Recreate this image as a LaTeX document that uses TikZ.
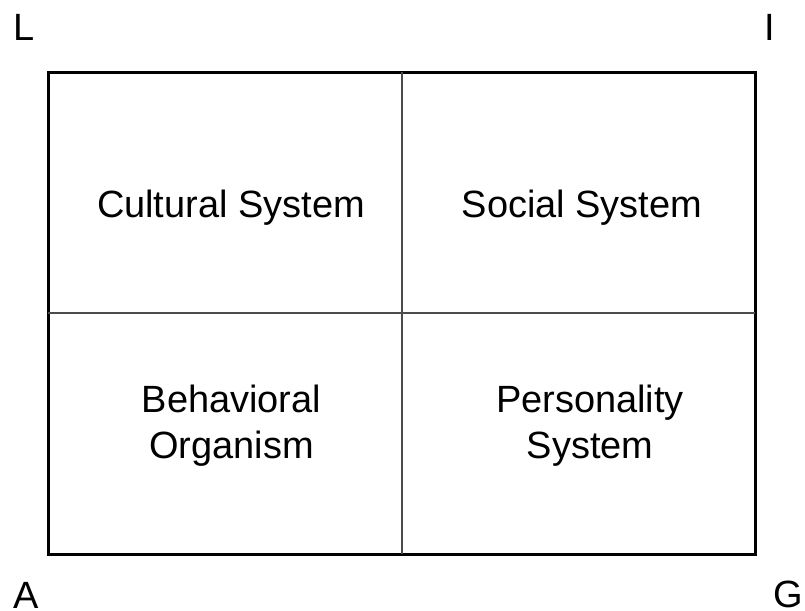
\documentclass[tikz,border=0pt]{standalone}
\usepackage{fontspec}
\setmainfont{Liberation Sans}
\usepackage{tikz}
\usetikzlibrary{positioning}

\tikzset{
	frame/.style = {draw, line width=2.1pt, inner sep=0pt, outer sep=0pt,
		minimum width=17.66cm, minimum height=12.04cm},
	divider/.style = {line width=1.1pt, draw=black!70},
	quad/.style = {align=center, anchor=base, font=\fontsize{27pt}{32.7pt}\selectfont},
	corner/.style = {anchor=base, font=\fontsize{27pt}{32.7pt}\selectfont}
}

\begin{document}
\begin{tikzpicture}[x=0.025cm, y=-0.025cm]
	\useasboundingbox (0,0) rectangle (805,611);

	% the four boxes
	\node[frame] (agil) at (401.75,313.25) {};
	\draw[divider] (agil.north) -- (agil.south);
	\draw[divider] (agil.west) -- (agil.east);

	\node[quad] (cultural) at (231,218){Cultural System};
	\node[quad] (social) at (582,218){Social System};
	\node[quad] (behavioral) at (231.5,458){Behavioral\\Organism};
	\node[quad] (personality) at (590,458){Personality\\System};

	% corner letters
	\node[corner] (cornerL) at (24,41){L};
	\node[corner] (cornerI) at (770,41){I};
	\node[corner] (cornerA) at (26,608){A};
	\node[corner] (cornerG) at (788,607){G};
\end{tikzpicture}
\end{document}
